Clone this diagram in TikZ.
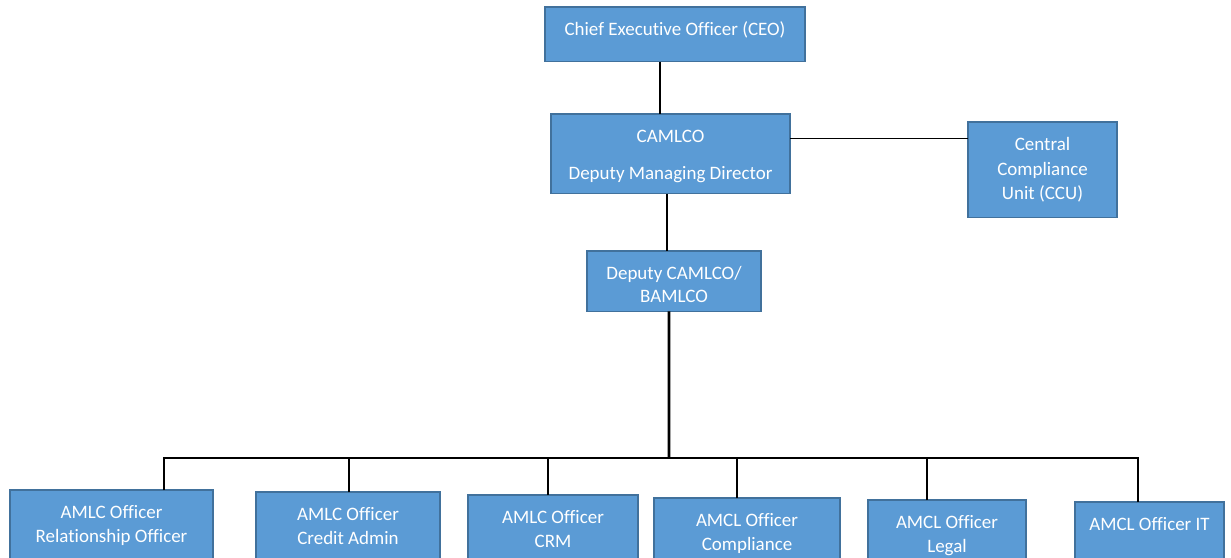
\documentclass[tikz,border=0pt]{standalone}
\usepackage{fontspec}
\setmainfont{Carlito}[Ligatures=NoCommon]
\definecolor{unitfill}{HTML}{5B9BD5}
\definecolor{unitline}{HTML}{41719C}
\newcommand\hd{\rule{0pt}{11.4pt}}
\tikzset{unit/.style={draw=unitline, line width=0.6pt, fill=unitfill, text=white, align=center,
    anchor=north west, inner xsep=0pt, inner ysep=5pt, outer sep=0pt,
    font=\fontsize{10.8}{13.8}\selectfont}}
\tikzset{link/.style={line width=0.75pt}}

\begin{document}
\begin{tikzpicture}[x=0.2mm,y=-0.2mm]
    \useasboundingbox (0,0) rectangle (1231,558);
    \clip (0,0) rectangle (1231,558);
    \node[unit, minimum width=52mm, text depth=9.7pt] (ceo) at (545,7) {\hd Chief Executive Officer (CEO)};
    \node[unit, minimum width=47.8mm, text depth=3.1pt] (camlco) at (551,114) {\hd CAMLCO\\[7.2pt] Deputy Managing Director};
    \node[unit, minimum width=29.8mm, text depth=5.3pt] (ccu) at (968,122) {\hd Central\\ Compliance\\ Unit (CCU)};
    \node[unit, minimum width=34.8mm, text depth=-2.3pt] (dcamlco) at (587,251) {\hd Deputy CAMLCO/\\[-0.8pt] BAMLCO};
    \node[unit, minimum width=40.6mm, text depth=30pt] (ro) at (10,490) {\hd AMLC Officer\\[-0.4pt] Relationship Officer};
    \node[unit, minimum width=36.8mm, text depth=30pt] (ca) at (256,492) {\hd AMLC Officer\\[-0.4pt] Credit Admin};
    \node[unit, minimum width=34mm, text depth=30pt] (crm) at (468,495) {\hd AMLC Officer\\[-0.4pt] CRM};
    \node[unit, minimum width=37.2mm, text depth=30pt] (cmp) at (654,498) {\hd AMCL Officer\\[-0.4pt] Compliance};
    \node[unit, minimum width=31.6mm, text depth=30pt] (legal) at (868,500) {\hd AMCL Officer\\[-0.4pt] Legal};
    \node[unit, minimum width=29.8mm, text depth=30pt] (it) at (1075,502) {\hd AMCL Officer IT};
    \coordinate (bus) at (669,458);
    \draw[link] ([xshift=-3mm]ceo.south) -- ([xshift=-3mm]ceo.south |- camlco.north);
    \draw[link] ([yshift=3.1mm]camlco.east) coordinate (k) -- (k -| ccu.west);
    \draw[link] ([xshift=-0.7mm]camlco.south) -- ([xshift=-0.7mm]camlco.south |- dcamlco.north);
    \draw[line width=1.5pt] ([xshift=-1mm]dcamlco.south) -- (bus);
    \draw[link] ([xshift=10.5mm]ro.north) |- (bus) -| ([xshift=-2.3mm]it.north);
    \foreach \n/\s in {ca/0.2mm, crm/-1mm, cmp/-2mm, legal/-4mm}
        \draw[link] ([xshift=\s]\n.north) -- ([xshift=\s]\n.north |- bus);
\end{tikzpicture}
\end{document}
